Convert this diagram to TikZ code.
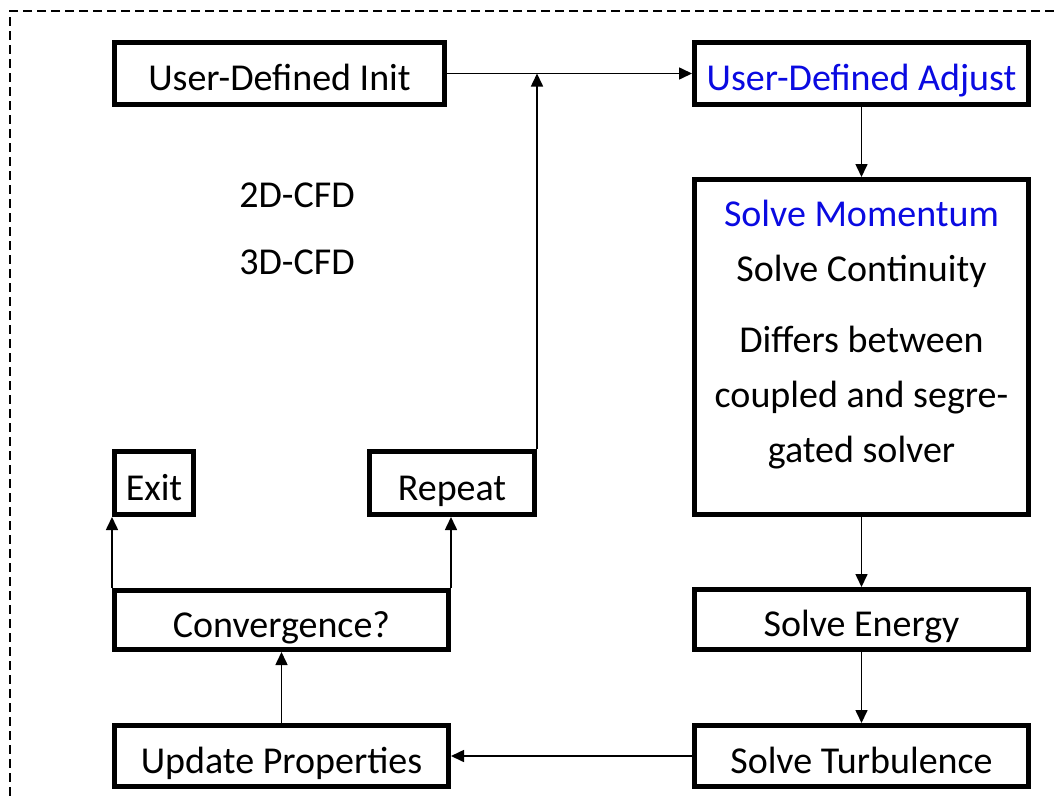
\documentclass[tikz,border=0pt]{standalone}
\usepackage{fontspec}
\setmainfont{Carlito}
\usetikzlibrary{arrows.meta}
\definecolor{stepblue}{RGB}{10,10,225}
\begin{document}
\begin{tikzpicture}[x=1pt,y=-1pt,
  box/.style={draw, line width=5pt, inner sep=0pt, text height=34pt, text depth=0pt,
              font=\fontsize{38}{46}\selectfont},
  txt/.style={inner sep=0pt, anchor=base, font=\fontsize{38}{46}\selectfont},
  flow/.style={line width=1.6pt, -{Triangle[length=13pt,width=12pt]}},
  frame/.style={line width=2pt, dash pattern=on 9pt off 5pt}]
\useasboundingbox (0,0) rectangle (1054,798);

% dashed frame (top and left edges)
\draw[frame] (1054,11) -- (10,11) -- (10,798);

% process boxes
\node[box, minimum width=330, minimum height=62] (init) at (279.5,73.5) {User-Defined Init};
\node[box, minimum width=334, minimum height=62, text=stepblue] (adjust) at (861.5,73.5) {User-Defined Adjust};
\node[box, minimum width=334, minimum height=335] (solve) at (861.5,347) {};
\node[box, minimum width=334, minimum height=60] (energy) at (861.5,619.5) {Solve Energy};
\node[box, minimum width=334, minimum height=61] (turb) at (861.5,756) {Solve Turbulence};
\node[box, minimum width=334, minimum height=61] (update) at (281.5,756) {Update Properties};
\node[box, minimum width=334, minimum height=59] (conv) at (281.5,620) {Convergence?};
\node[box, minimum width=79, minimum height=63] (exit) at (154,483) {Exit};
\node[box, minimum width=165, minimum height=63] (repeat) at (452,483) {Repeat};

% contents of the solver box
\node[txt, text=stepblue] (mom) at (861.5,226) {Solve Momentum};
\node[txt] (cont) at (861.5,281) {Solve Continuity};
\node[txt] (diffa) at (861.5,352) {Differs between};
\node[txt] (diffb) at (861.5,407) {coupled and segre-};
\node[txt] (diffc) at (861.5,462) {gated solver};

% free labels
\node[txt] (cfdtwo) at (297,207) {2D-CFD};
\node[txt] (cfdthree) at (297,274) {3D-CFD};

% connectors
\draw[flow] (init.east) -- (adjust.west);
\draw[flow] (repeat.north east) -- (repeat.north east |- init.east);
\draw[flow] (adjust.south) -- (solve.north);
\draw[flow] (solve.south) -- (energy.north);
\draw[flow] (energy.south) -- (turb.north);
\draw[flow] (turb.west) -- (update.east);
\draw[flow] (update.north) -- (conv.south);
\draw[flow] (conv.north west) -- (exit.south west);
\draw[flow] (conv.north east) -- (conv.north east |- repeat.south);
\end{tikzpicture}
\end{document}
